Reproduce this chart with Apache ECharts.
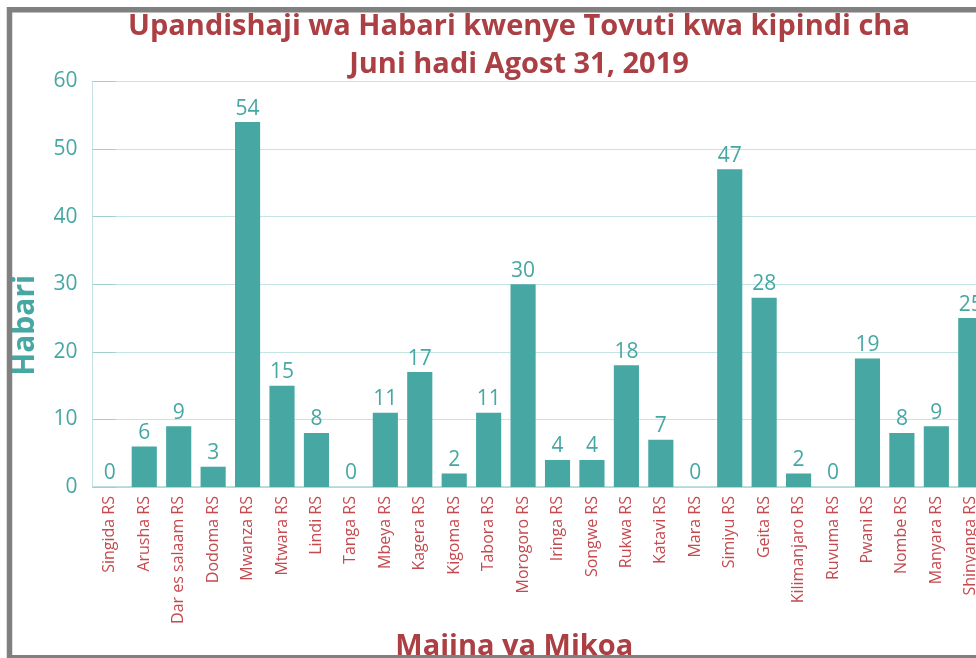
<!DOCTYPE html>
<html>
<head>
<meta charset="utf-8">
<script src="https://cdn.jsdelivr.net/npm/echarts@6/dist/echarts.min.js"></script>
<style>
  html, body { margin: 0; padding: 0; background: #fff; }
  #main { width: 976px; height: 658px; }
</style>
</head>
<body>
<div id="main"></div>
<script>
var mikoa = ['Singida RS', 'Arusha RS', 'Dar es salaam RS', 'Dodoma RS', 'Mwanza RS', 'Mtwara RS',
    'Lindi RS', 'Tanga RS', 'Mbeya RS', 'Kagera RS', 'Kigoma RS', 'Tabora RS', 'Morogoro RS',
    'Iringa RS', 'Songwe RS', 'Rukwa RS', 'Katavi RS', 'Mara RS', 'Simiyu RS', 'Geita RS',
    'Kilimanjaro RS', 'Ruvuma RS', 'Pwani RS', 'Nombe RS', 'Manyara RS', 'Shinyanga RS'];
var habari = [0, 6, 9, 3, 54, 15, 8, 0, 11, 17, 2, 11, 30, 4, 4, 18, 7, 0, 47, 28, 2, 0, 19, 8, 9, 25];

var teal = '#46a7a3';
var red = '#ab3f44';

var chart = echarts.init(document.getElementById('main'));
var option = {
    backgroundColor: '#fff',
    title: {
        text: 'Upandishaji wa Habari kwenye Tovuti kwa kipindi cha\nJuni hadi Agost 31, 2019',
        left: 514,
        textAlign: 'center',
        top: 3,
        textStyle: {
            color: red,
            fontFamily: 'Open Sans',
            fontWeight: 'bold',
            fontSize: 29,
            lineHeight: 38
        }
    },
    // fremu ya kijivu
    graphic: [{
        type: 'rect',
        silent: true,
        z: 100,
        shape: { x: 9.5, y: 9.7, width: 1100, height: 648 },
        style: { fill: 'none', stroke: '#808080', lineWidth: 5.5 }
    }],
    grid: {
        left: 92.6,
        top: 81.5,
        width: 895.4,
        bottom: 171,
        outerBoundsMode: 'none'
    },
    xAxis: {
        type: 'category',
        data: mikoa,
        name: 'Majina ya Mikoa',
        nameLocation: 'middle',
        nameGap: 137,
        nameTextStyle: {
            color: red,
            fontFamily: 'Open Sans',
            fontWeight: 'bold',
            fontSize: 29,
            padding: [0, 52, 0, 0]
        },
        axisLine: { lineStyle: { color: '#a9d8d5', width: 1.5 } },
        axisTick: { inside: true, length: 9, lineStyle: { color: '#b5dcda' } },
        axisLabel: {
            rotate: 90,
            interval: 0,
            margin: 9,
            color: '#c44a4f',
            fontFamily: 'Open Sans',
            fontSize: 16
        }
    },
    yAxis: {
        type: 'value',
        min: 0,
        max: 60,
        interval: 10,
        name: 'Habari',
        nameLocation: 'middle',
        nameRotate: 90,
        nameGap: 52,
        nameTextStyle: {
            color: teal,
            fontFamily: 'Open Sans',
            fontWeight: 'bold',
            fontSize: 30,
            padding: [0, 82, 0, 0]
        },
        axisLine: { show: true, lineStyle: { color: '#c5e5e3' } },
        axisTick: { show: true, inside: true, length: 23, lineStyle: { color: '#9fd0cd' } },
        axisLabel: {
            margin: 15,
            color: teal,
            fontFamily: 'Open Sans',
            fontSize: 21
        },
        splitLine: { lineStyle: { color: '#c5e5e3', width: 1.2 } }
    },
    series: [{
        name: 'Habari',
        type: 'bar',
        data: habari,
        barCategoryGap: '27%',
        itemStyle: { color: teal },
        label: {
            show: true,
            position: 'top',
            distance: 3,
            color: teal,
            fontFamily: 'Open Sans',
            fontSize: 21
        }
    }]
};
chart.setOption(option);
</script>
</body>
</html>
